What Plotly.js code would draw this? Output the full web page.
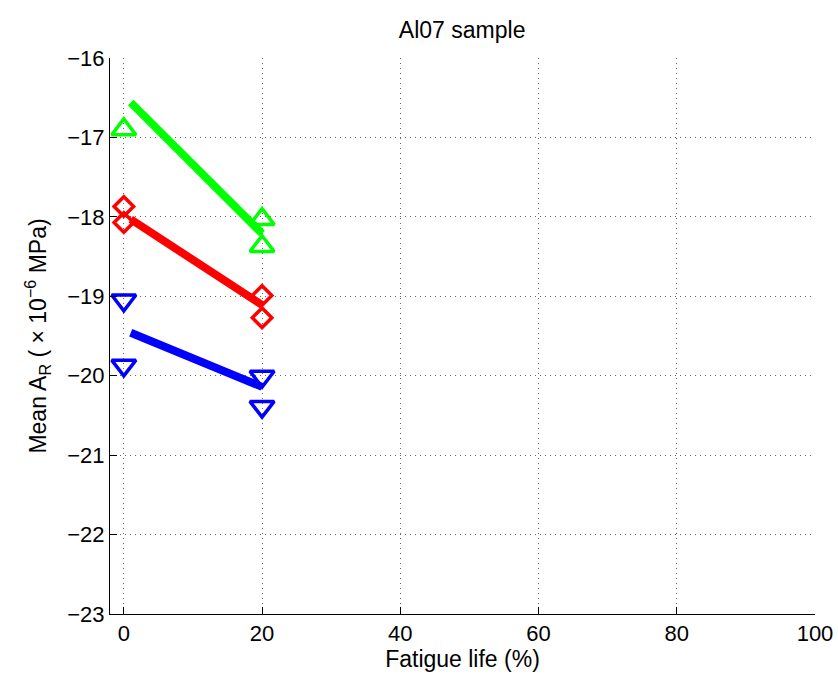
<!DOCTYPE html>
<html>
<head>
<meta charset="utf-8">
<script src="https://cdn.plot.ly/plotly-3.0.1.min.js"></script>
<style>html,body{margin:0;padding:0;background:#fff;}#chart{width:838px;height:675px;}</style>
</head>
<body>
<div id="chart"></div>
<script>
// Measured points (fatigue life %, mean A_R ×10^-6 MPa)
var greenX = [0, 20, 20];
var greenY = [-16.90, -18.03, -18.37];
var redX = [0, 0, 20, 20];
var redY = [-17.87, -18.07, -18.99, -19.27];
var blueX = [0, 0, 20, 20];
var blueY = [-19.05, -19.87, -20.01, -20.39];

// Fitted trend lines (end points)
var fitX = [1, 20];
var greenFitY = [-16.56, -18.21];
var redFitY = [-18.03, -19.11];
var blueFitY = [-19.46, -20.14];

var xTicks = [0, 20, 40, 60, 80, 100];
var yTicks = [-23, -22, -21, -20, -19, -18, -17, -16];

var GREEN = '#00ff00', RED = '#ff0000', BLUE = '#0000ff';
var FAMILY = 'Liberation Sans, Arial, Helvetica, sans-serif';

function line(y, c) {
  return {x: fitX, y: y, mode: 'lines', line: {color: c, width: 8}, hoverinfo: 'skip', showlegend: false};
}
function pts(x, y, c, sym, size) {
  return {x: x, y: y, mode: 'markers', showlegend: false,
    marker: {symbol: sym, size: size, color: c, line: {color: c, width: 3.5}}};
}
function f(s) { return {family: FAMILY, size: s, color: '#000'}; }

var data = [
  line(greenFitY, GREEN), line(redFitY, RED), line(blueFitY, BLUE),
  pts(greenX, greenY, GREEN, 'triangle-up-open', 21),
  pts(redX, redY, RED, 'diamond-open', 15),
  pts(blueX, blueY, BLUE, 'triangle-down-open', 21)
];

var layout = {
  width: 838, height: 675,
  margin: {l: 110, r: 23, t: 58, b: 61},
  paper_bgcolor: '#fff', plot_bgcolor: '#fff',
  font: f(22),
  title: {text: 'Al07 sample', font: f(23), x: 0.5515, xanchor: 'center', y: 0.955, yanchor: 'middle'},
  xaxis: {
    range: [-2, 100], tickvals: xTicks, ticktext: xTicks.map(String),
    showline: true, linecolor: '#000', linewidth: 1, mirror: false,
    ticks: 'inside', ticklen: 7, tickcolor: '#000',
    showgrid: true, gridcolor: '#666', griddash: '1px,4px', gridwidth: 1,
    zeroline: false, tickfont: f(22),
    title: {text: 'Fatigue life (%)', font: f(23), standoff: 2}
  },
  yaxis: {
    range: [-23, -16], tickvals: yTicks,
    showline: true, linecolor: '#000', linewidth: 1, mirror: false,
    ticks: 'inside', ticklen: 7, tickcolor: '#000',
    showgrid: true, gridcolor: '#666', griddash: '1px,4px', gridwidth: 1,
    zeroline: false, tickfont: f(22),
    title: {text: 'Mean A<sub>R</sub> ( \u00d7 10<sup>\u22126</sup> MPa)', font: f(23), standoff: 14}
  }
};

Plotly.newPlot('chart', data, layout, {staticPlot: true});
</script>
</body>
</html>
